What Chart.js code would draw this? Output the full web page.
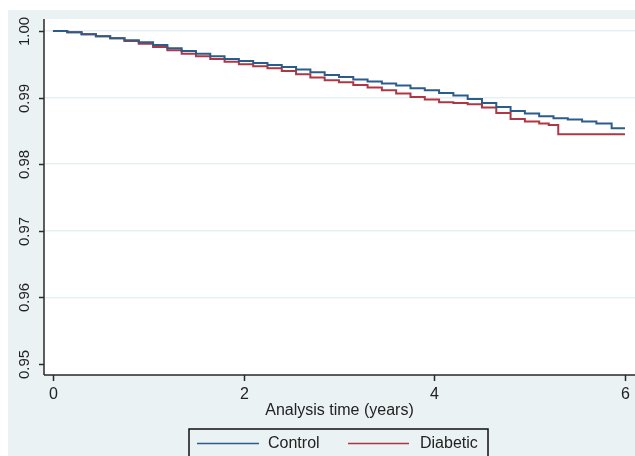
<!DOCTYPE html>
<html>
<head>
<meta charset="utf-8">
<script src="https://cdn.jsdelivr.net/npm/chart.js@4"></script>
<style>
html,body{margin:0;padding:0;background:#fff;}
#wrap{width:635px;height:456px;position:relative;}
</style>
</head>
<body>
<div id="wrap"><canvas id="c" width="635" height="456"></canvas></div>
<script>
// ---- Data ----
const controlTime = [0,0.15,0.30,0.45,0.60,0.75,0.90,1.05,1.20,1.35,1.50,1.65,1.80,1.95,2.10,2.25,2.40,2.55,2.70,2.85,3.00,3.15,3.30,3.45,3.60,3.75,3.90,4.05,4.20,4.35,4.50,4.65,4.80,4.95,5.10,5.25,5.40,5.55,5.70,5.86,6.00];
const controlSurv = [1.0000,0.9998,0.9995,0.9992,0.9989,0.9986,0.9983,0.9979,0.9974,0.9970,0.9966,0.9962,0.9958,0.9955,0.9952,0.9949,0.9946,0.9942,0.9938,0.9934,0.9931,0.9927,0.9924,0.9921,0.9918,0.9914,0.9911,0.9907,0.9903,0.9898,0.9892,0.9886,0.9880,0.9876,0.9872,0.9869,0.9867,0.9864,0.9861,0.9854,0.9854];
const diabeticTime = [0,0.15,0.30,0.45,0.60,0.75,0.90,1.05,1.20,1.35,1.50,1.65,1.80,1.95,2.10,2.25,2.40,2.55,2.70,2.85,3.00,3.15,3.30,3.45,3.60,3.75,3.90,4.05,4.20,4.35,4.50,4.65,4.80,4.95,5.10,5.20,5.30,6.00];
const diabeticSurv = [1.0000,0.9998,0.9995,0.9992,0.9989,0.9985,0.9981,0.9976,0.9971,0.9966,0.9962,0.9958,0.9954,0.9950,0.9947,0.9944,0.9940,0.9935,0.9930,0.9926,0.9923,0.9919,0.9915,0.9911,0.9906,0.9901,0.9897,0.9893,0.9892,0.9890,0.9885,0.9877,0.9868,0.9864,0.9861,0.9859,0.9845,0.9845];
const yTicks = [0.95,0.96,0.97,0.98,0.99,1.00];
const yTickLabels = ["0.95","0.96","0.97","0.98","0.99","1.00"];
const xTicks = [0,2,4,6];
const xTickLabels = ["0","2","4","6"];
const seriesNames = ["Control","Diabetic"];
const seriesColors = ["#2b5d8c","#b03644"];
const xTitle = "Analysis time (years)";

const BG = "#eaf2f3";
const FONT = "'Liberation Sans', Arial, sans-serif";

const toPts = (t, s) => t.map((v, i) => ({x: v, y: s[i]}));

const decor = {
  id: 'decor',
  beforeDraw(chart) {
    const ctx = chart.ctx, a = chart.chartArea;
    ctx.save();
    ctx.fillStyle = '#ffffff';
    ctx.fillRect(0, 0, chart.width, chart.height);
    ctx.fillStyle = BG;
    ctx.fillRect(8, 10, chart.width - 8, chart.height - 10);
    ctx.fillStyle = '#ffffff';
    ctx.fillRect(a.left, a.top, a.right - a.left, a.bottom - a.top);
    ctx.restore();
  },
  afterDraw(chart) {
    const ctx = chart.ctx, a = chart.chartArea;
    const xs = chart.scales.x, ys = chart.scales.y;
    ctx.save();
    ctx.strokeStyle = '#2a2a2a';
    ctx.lineWidth = 1.5;
    // axes lines
    ctx.beginPath();
    ctx.moveTo(a.left, a.top); ctx.lineTo(a.left, a.bottom);
    ctx.moveTo(a.left, a.bottom); ctx.lineTo(a.right, a.bottom);
    ctx.stroke();
    // y ticks + labels (rotated)
    ctx.fillStyle = '#222';
    ctx.font = '15px ' + FONT;
    ctx.textAlign = 'center';
    ctx.textBaseline = 'middle';
    yTicks.forEach((v, i) => {
      const py = Math.round(ys.getPixelForValue(v)) + 0.5;
      ctx.beginPath(); ctx.moveTo(a.left - 5, py); ctx.lineTo(a.left, py); ctx.stroke();
      ctx.save();
      ctx.translate(25, py);
      ctx.rotate(-Math.PI / 2);
      ctx.fillText(yTickLabels[i], 0, 0);
      ctx.restore();
    });
    // x ticks + labels
    ctx.font = '16px ' + FONT;
    xTicks.forEach((v, i) => {
      const px = Math.round(xs.getPixelForValue(v)) + 0.5;
      ctx.beginPath(); ctx.moveTo(px, a.bottom); ctx.lineTo(px, a.bottom + 6); ctx.stroke();
      ctx.fillText(xTickLabels[i], px, 395);
    });
    // x title
    ctx.fillText(xTitle, (a.left + a.right) / 2, 411);
    // legend
    const lx = 189, ly = 429, lw = 299;
    ctx.fillStyle = BG;
    ctx.fillRect(lx, ly, lw, 40);
    ctx.strokeStyle = '#111';
    ctx.lineWidth = 1.5;
    ctx.strokeRect(lx, ly, lw, 40);
    const items = [{x0: 197, x1: 259, tx: 268}, {x0: 348, x1: 409, tx: 420}];
    items.forEach((it, i) => {
      ctx.strokeStyle = seriesColors[i];
      ctx.lineWidth = 1.5;
      ctx.beginPath(); ctx.moveTo(it.x0, 443.5); ctx.lineTo(it.x1, 443.5); ctx.stroke();
      ctx.fillStyle = '#222';
      ctx.textAlign = 'left';
      ctx.fillText(seriesNames[i], it.tx, 444);
    });
    ctx.restore();
  }
};

new Chart(document.getElementById('c'), {
  type: 'line',
  data: {
    datasets: [
      {label: seriesNames[0], data: toPts(controlTime, controlSurv), borderColor: seriesColors[0], borderWidth: 2, stepped: 'before', pointRadius: 0, fill: false},
      {label: seriesNames[1], data: toPts(diabeticTime, diabeticSurv), borderColor: seriesColors[1], borderWidth: 2, stepped: 'before', pointRadius: 0, fill: false}
    ]
  },
  options: {
    responsive: false,
    animation: false,
    devicePixelRatio: 1,
    layout: {padding: {left: 44, top: 19, right: 0, bottom: 81}},
    plugins: {legend: {display: false}, tooltip: {enabled: false}},
    scales: {
      x: {
        type: 'linear', min: -0.094, max: 6.105,
        grid: {display: false, drawTicks: false},
        border: {display: false},
        ticks: {display: false}
      },
      y: {
        type: 'linear', min: 0.94835, max: 1.0018,
        afterBuildTicks: (s) => { s.ticks = yTicks.filter(v => v > 0.955).map(v => ({value: v})); },
        grid: {color: '#e6eff1', lineWidth: 1.5, drawTicks: false},
        border: {display: false},
        ticks: {display: false}
      }
    }
  },
  plugins: [decor]
});
</script>
</body>
</html>
